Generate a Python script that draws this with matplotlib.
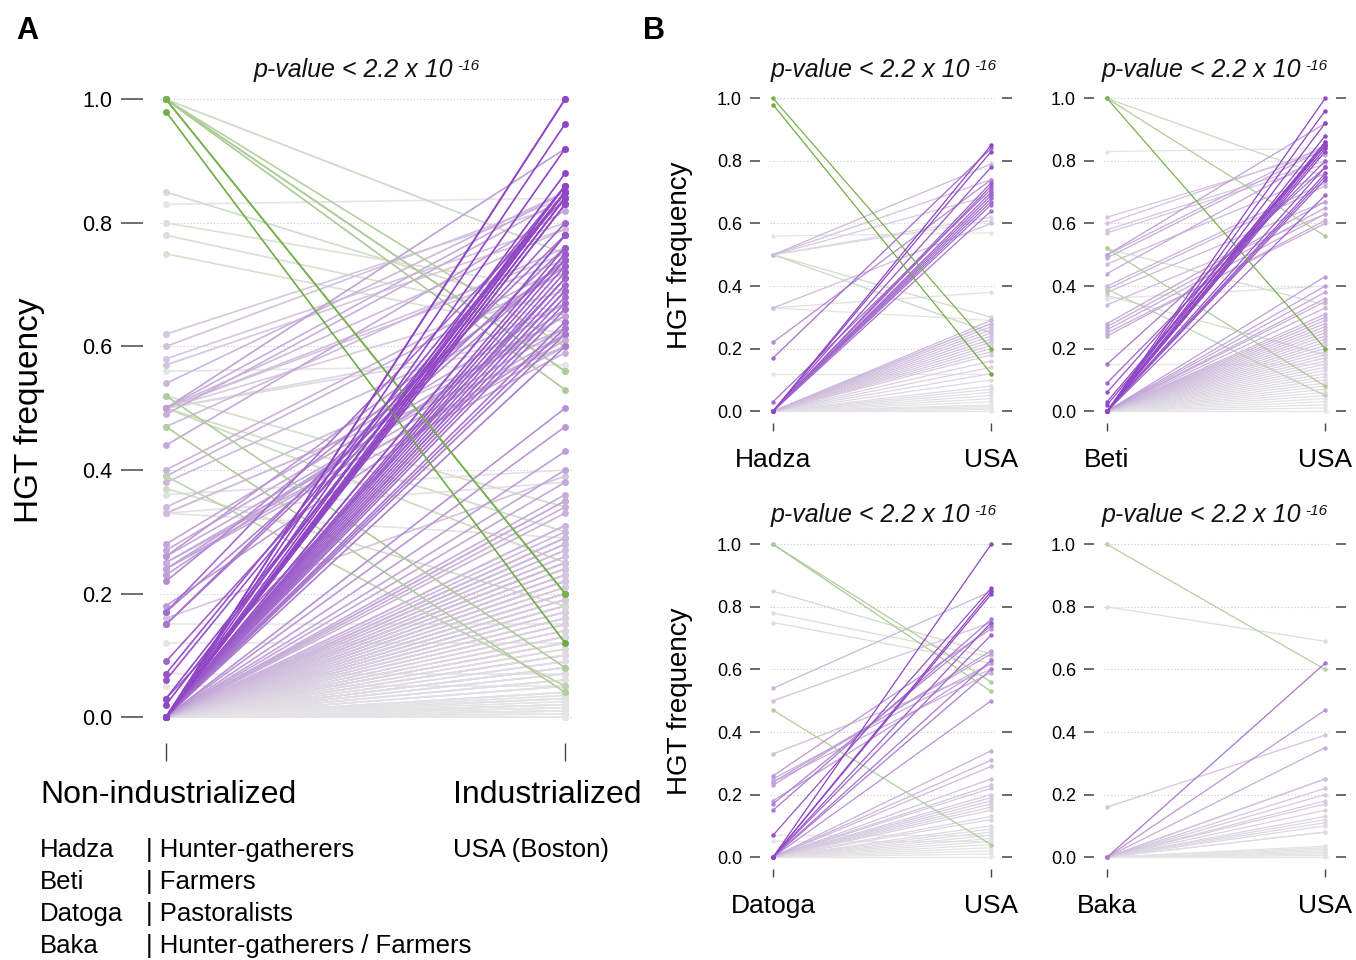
import matplotlib
matplotlib.use('Agg')
import matplotlib.pyplot as plt
import numpy as np

plt.rcParams['font.family'] = ['Liberation Sans', 'DejaVu Sans']

# HGT frequency in each non-industrialized population vs. USA (Boston)
hadza_ni = [1.00, 0.98,
            0.00, 0.00, 0.00, 0.00, 0.00, 0.00, 0.00, 0.00, 0.00, 0.00, 0.00, 0.03, 0.17, 0.22,
            0.50, 0.50, 0.50, 0.50, 0.33, 0.33,
            0.56, 0.50, 0.50, 0.50, 0.12, 0.33,
            0.00, 0.00, 0.00, 0.00, 0.00, 0.00, 0.00, 0.00, 0.00, 0.00, 0.00, 0.00, 0.00, 0.00,
            0.00, 0.00, 0.00, 0.00, 0.00, 0.00, 0.00, 0.00, 0.00, 0.00, 0.00, 0.00, 0.00, 0.00]
hadza_usa = [0.20, 0.12,
             0.85, 0.83, 0.78, 0.73, 0.72, 0.70, 0.69, 0.68, 0.67, 0.66, 0.64, 0.71, 0.84, 0.74,
             0.79, 0.74, 0.69, 0.62, 0.60, 0.38,
             0.57, 0.61, 0.30, 0.25, 0.12, 0.29,
             0.29, 0.28, 0.28, 0.27, 0.26, 0.25, 0.24, 0.23, 0.22, 0.21, 0.20, 0.19, 0.18, 0.16,
             0.14, 0.12, 0.10, 0.08, 0.07, 0.06, 0.05, 0.04, 0.03, 0.02, 0.015, 0.01, 0.005, 0.00]

beti_ni = [1.00, 1.00, 1.00, 0.52, 0.39, 0.52, 0.37, 0.83,
           0.00, 0.00, 0.00, 0.00, 0.00, 0.00, 0.00, 0.00, 0.00, 0.00, 0.00, 0.00, 0.00,
           0.02, 0.03, 0.06, 0.09, 0.15,
           0.62, 0.60, 0.58, 0.57, 0.50, 0.49, 0.47, 0.44, 0.40, 0.39, 0.38, 0.34, 0.28, 0.27,
           0.26, 0.25, 0.24, 0.36, 0.50, 0.15,
           0.00, 0.00, 0.00, 0.00, 0.00, 0.00, 0.00, 0.00, 0.00, 0.00, 0.00, 0.00, 0.00, 0.00,
           0.00, 0.00, 0.00, 0.00, 0.00, 0.00, 0.00, 0.00, 0.00, 0.00, 0.00, 0.00, 0.00, 0.00,
           0.00, 0.00, 0.00, 0.00, 0.00, 0.00, 0.00, 0.00, 0.00, 0.00]
beti_usa = [0.20, 0.56, 0.75, 0.08, 0.05, 0.34, 0.18, 0.84,
            1.00, 0.96, 0.92, 0.88, 0.86, 0.85, 0.84, 0.83, 0.78, 0.76, 0.75, 0.74, 0.69,
            0.86, 0.85, 0.85, 0.80, 0.78,
            0.83, 0.84, 0.80, 0.79, 0.85, 0.84, 0.76, 0.82, 0.73, 0.72, 0.67, 0.63, 0.67, 0.65,
            0.63, 0.60, 0.61, 0.40, 0.92, 0.15,
            0.43, 0.40, 0.38, 0.36, 0.35, 0.33, 0.31, 0.30, 0.29, 0.28, 0.27, 0.26, 0.25, 0.24,
            0.23, 0.22, 0.21, 0.20, 0.19, 0.18, 0.17, 0.16, 0.15, 0.14, 0.13, 0.12, 0.11, 0.10,
            0.09, 0.08, 0.07, 0.06, 0.05, 0.04, 0.03, 0.02, 0.01, 0.00]

datoga_ni = [1.00, 1.00, 0.47, 0.85, 0.78, 0.75,
             0.00, 0.00, 0.00, 0.07, 0.00, 0.00, 0.00, 0.00, 0.00,
             0.15, 0.17, 0.18, 0.23, 0.24, 0.25, 0.26, 0.33, 0.50, 0.54, 0.24,
             0.00, 0.00, 0.00, 0.00, 0.00, 0.00, 0.00, 0.00, 0.00, 0.00, 0.00, 0.00, 0.00,
             0.00, 0.00, 0.00, 0.00, 0.00, 0.00, 0.00, 0.00, 0.00, 0.00, 0.00, 0.00,
             0.07, 0.05]
datoga_usa = [0.56, 0.53, 0.04, 0.65, 0.64, 0.62,
              1.00, 0.85, 0.84, 0.86, 0.75, 0.71, 0.63, 0.60, 0.50,
              0.76, 0.74, 0.62, 0.66, 0.59, 0.62, 0.73, 0.60, 0.75, 0.85, 0.65,
              0.34, 0.31, 0.29, 0.25, 0.23, 0.22, 0.20, 0.19, 0.18, 0.17, 0.16, 0.15, 0.13,
              0.12, 0.10, 0.09, 0.08, 0.07, 0.06, 0.05, 0.04, 0.03, 0.02, 0.01, 0.00,
              0.07, 0.05]

baka_ni = [1.00, 0.80, 0.16, 0.00, 0.00, 0.00, 0.00, 0.00, 0.00, 0.00, 0.00, 0.00, 0.00,
           0.00, 0.00, 0.00, 0.00, 0.00, 0.00, 0.00, 0.00, 0.00, 0.00, 0.00, 0.00, 0.00, 0.00]
baka_usa = [0.60, 0.69, 0.39, 0.62, 0.47, 0.35, 0.25, 0.25, 0.22, 0.20, 0.18, 0.17, 0.15,
            0.13, 0.12, 0.11, 0.10, 0.08, 0.08, 0.035, 0.03, 0.025, 0.02, 0.015, 0.01, 0.005, 0.00]

populations = ['Hadza', 'Beti', 'Datoga', 'Baka']
lifestyles = ['| Hunter-gatherers', '| Farmers', '| Pastoralists', '| Hunter-gatherers / Farmers']
yticks = [0.0, 0.2, 0.4, 0.6, 0.8, 1.0]

W, H = 1356, 960
PURPLE = np.array([0.56, 0.27, 0.77])
GREEN = np.array([0.44, 0.68, 0.26])
GREY = np.array([0.90, 0.90, 0.90])


def fx(x):
    return x / W


def fy(y):
    return 1 - y / H


def line_color(d):
    t = min(abs(d) / 0.85, 1.0) ** 1.2
    base = PURPLE if d > 0 else GREEN
    return tuple(GREY * (1 - t) + base * t)


def slope_panel(ax, left, right, lw, ms, tick_len, right_ticks, label_size):
    left = np.asarray(left)
    right = np.asarray(right)
    order = np.argsort(np.abs(right - left))
    for i in order:
        c = line_color(right[i] - left[i])
        ax.plot([0, 1], [left[i], right[i]], '-', color=c, lw=lw, solid_capstyle='round')
        ax.plot([0, 1], [left[i], right[i]], 'o', color=c, ms=ms, mec='none')
    ax.hlines(yticks, -0.015, 1.015, colors='#c8c8c8', linestyles=(0, (1, 2)), lw=0.8, zorder=0)
    for s in ax.spines.values():
        s.set_visible(False)
    ax.set_yticks(yticks)
    ax.set_yticklabels(['%.1f' % v for v in yticks])
    ax.set_xticks([0, 1])
    ax.set_xticklabels(['', ''])
    ax.tick_params(axis='y', length=tick_len, width=1.1, color='#444444', labelsize=label_size,
                   pad=6, right=right_ticks)
    ax.tick_params(axis='x', length=tick_len * 0.8, width=1.0, color='#444444')


fig = plt.figure(figsize=(13.56, 9.6), dpi=100)

# panel A: all populations pooled
all_ni = hadza_ni + beti_ni + datoga_ni + baka_ni
all_usa = hadza_usa + beti_usa + datoga_usa + baka_usa
axA = fig.add_axes([fx(143), fy(743), 445 / W, 656 / H])
axA.set_xlim(-0.0576, 1.0576)
axA.set_ylim(-0.042, 1.02)
slope_panel(axA, all_ni, all_usa, 1.2, 5.0, 16, False, 15.5)
fig.text(fx(30), fy(410), 'HGT frequency', fontsize=24, rotation=90, ha='center', va='center')

# panel B: each population
b_data = [(hadza_ni, hadza_usa), (beti_ni, beti_usa), (datoga_ni, datoga_usa), (baka_ni, baka_usa)]
b_x0 = [773, 1107, 773, 1107]
b_y0 = [411, 411, 857, 857]
for k, (ni, usa) in enumerate(b_data):
    left = b_x0[k] - 13
    bottom = b_y0[k] + 12
    ax = fig.add_axes([fx(left), fy(bottom), 242 / W, 334 / H])
    ax.set_xlim(-0.06, 1.05)
    ax.set_ylim(-0.038, 1.03)
    slope_panel(ax, ni, usa, 0.9, 3.2, 7, True, 13)
    fig.text(fx(b_x0[k]), fy(b_y0[k] + 49), populations[k], fontsize=19, ha='center', va='center')
    fig.text(fx(b_x0[k] + 218), fy(b_y0[k] + 49), 'USA', fontsize=19, ha='center', va='center')
    if k % 2 == 0:
        fig.text(fx(680), fy(b_y0[k] - 156), 'HGT frequency', fontsize=20, rotation=90,
                 ha='center', va='center')

# p-value headers
for cx, cy in [(365, 70), (882, 70), (1213, 70), (882, 515), (1213, 515)]:
    t = fig.text(fx(cx - 12), fy(cy), 'p-value < 2.2 x 10', style='italic', fontsize=18,
                 ha='center', va='center', color='#111111')
    axA.annotate('-16', xy=(1.0, 1.0), xycoords=t, xytext=(3, -1), textcoords='offset points',
                 style='italic', fontsize=11, ha='left', va='top', color='#111111',
                 annotation_clip=False)

# panel letters
fig.text(fx(16), fy(31), 'A', fontsize=22, fontweight='bold', va='center')
fig.text(fx(643), fy(31), 'B', fontsize=22, fontweight='bold', va='center')

# group labels under panel A
fig.text(fx(40), fy(795), 'Non-industrialized', fontsize=23, va='center')
fig.text(fx(453), fy(795), 'Industrialized', fontsize=23, va='center')
for i, (p, l) in enumerate(zip(populations, lifestyles)):
    fig.text(fx(40), fy(850 + 32 * i), p, fontsize=18.5, va='center')
    fig.text(fx(146), fy(850 + 32 * i), l, fontsize=18.5, va='center')
fig.text(fx(453), fy(850), 'USA (Boston)', fontsize=18.5, va='center')

fig.savefig('out.png', dpi=100)
